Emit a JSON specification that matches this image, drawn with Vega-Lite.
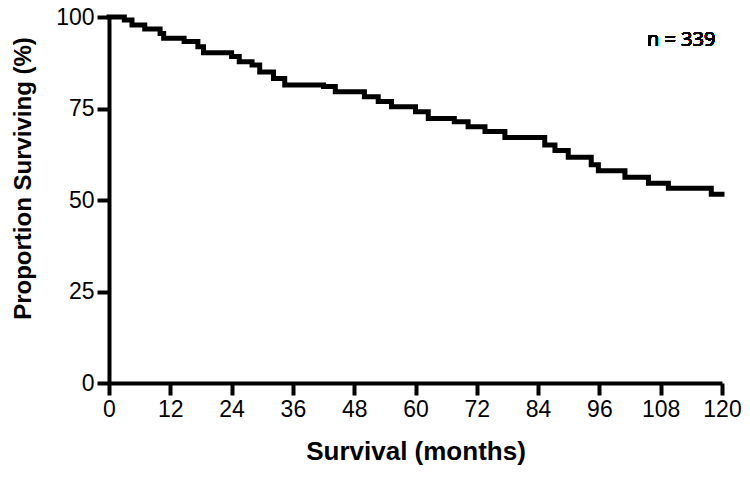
{
  "$schema": "https://vega.github.io/schema/vega-lite/v6.json",
  "width": 613,
  "height": 366,
  "autosize": "none",
  "padding": {"left": 109, "top": 17, "right": 28, "bottom": 95},
  "background": "white",
  "config": {
    "view": {"stroke": null},
    "axis": {
      "grid": false,
      "domainColor": "black",
      "domainWidth": 4,
      "tickColor": "black",
      "tickWidth": 4,
      "tickSize": 12,
      "labelColor": "black",
      "titleColor": "black",
      "labelFont": "Liberation Sans",
      "titleFont": "Liberation Sans",
      "labelFontSize": 23,
      "titleFontSize": 25,
      "titleFontWeight": "bold",
      "labelPadding": 3,
      "labelFlush": false
    }
  },
  "data": {
    "values": [
      {"month": 0, "pct": 100},
      {"month": 3, "pct": 99.2},
      {"month": 4.5, "pct": 97.8},
      {"month": 7, "pct": 96.7},
      {"month": 10, "pct": 95.5},
      {"month": 10.7, "pct": 94.2},
      {"month": 14.7, "pct": 93.3},
      {"month": 17.4, "pct": 91.9},
      {"month": 18.5, "pct": 90.2},
      {"month": 24, "pct": 89.2},
      {"month": 25.5, "pct": 87.8},
      {"month": 28, "pct": 86.9},
      {"month": 29.5, "pct": 85},
      {"month": 32.2, "pct": 83.2},
      {"month": 34.4, "pct": 81.4},
      {"month": 42, "pct": 81},
      {"month": 44.3, "pct": 79.6},
      {"month": 50, "pct": 78.2},
      {"month": 52.7, "pct": 76.9},
      {"month": 55.3, "pct": 75.5},
      {"month": 60, "pct": 74.1},
      {"month": 62.5, "pct": 72.3},
      {"month": 67.6, "pct": 71.4},
      {"month": 70.3, "pct": 70},
      {"month": 73.6, "pct": 68.7},
      {"month": 77.5, "pct": 67.1},
      {"month": 85.3, "pct": 65},
      {"month": 87.3, "pct": 63.5},
      {"month": 89.9, "pct": 61.7},
      {"month": 94.4, "pct": 59.6},
      {"month": 95.8, "pct": 58},
      {"month": 101, "pct": 56.2},
      {"month": 105.6, "pct": 54.6},
      {"month": 109.5, "pct": 53.2},
      {"month": 117.9, "pct": 51.6},
      {"month": 120, "pct": 51.6}
    ]
  },
  "layer": [
    {
      "mark": {"type": "line", "interpolate": "step-after", "color": "black", "strokeWidth": 5, "strokeJoin": "miter", "strokeCap": "square"},
      "encoding": {
        "x": {
          "field": "month", "type": "quantitative",
          "scale": {"domain": [0, 120], "nice": false},
          "axis": {"values": [0, 12, 24, 36, 48, 60, 72, 84, 96, 108, 120], "title": "Survival (months)", "titleFontSize": 26, "titlePadding": 17}
        },
        "y": {
          "field": "pct", "type": "quantitative",
          "scale": {"domain": [0, 100], "nice": false},
          "axis": {"values": [0, 25, 50, 75, 100], "title": "Proportion Surviving (%)", "titleFontSize": 24, "titleBaseline": "middle", "titleX": -86, "titleY": 161}
        }
      }
    },
    {
      "mark": {"type": "text", "text": "n = 339", "font": "Open Sans", "fontSize": 20, "color": "black", "align": "center", "baseline": "middle"},
      "encoding": {
        "x": {"datum": 112},
        "y": {"datum": 93.6}
      }
    }
  ]
}
